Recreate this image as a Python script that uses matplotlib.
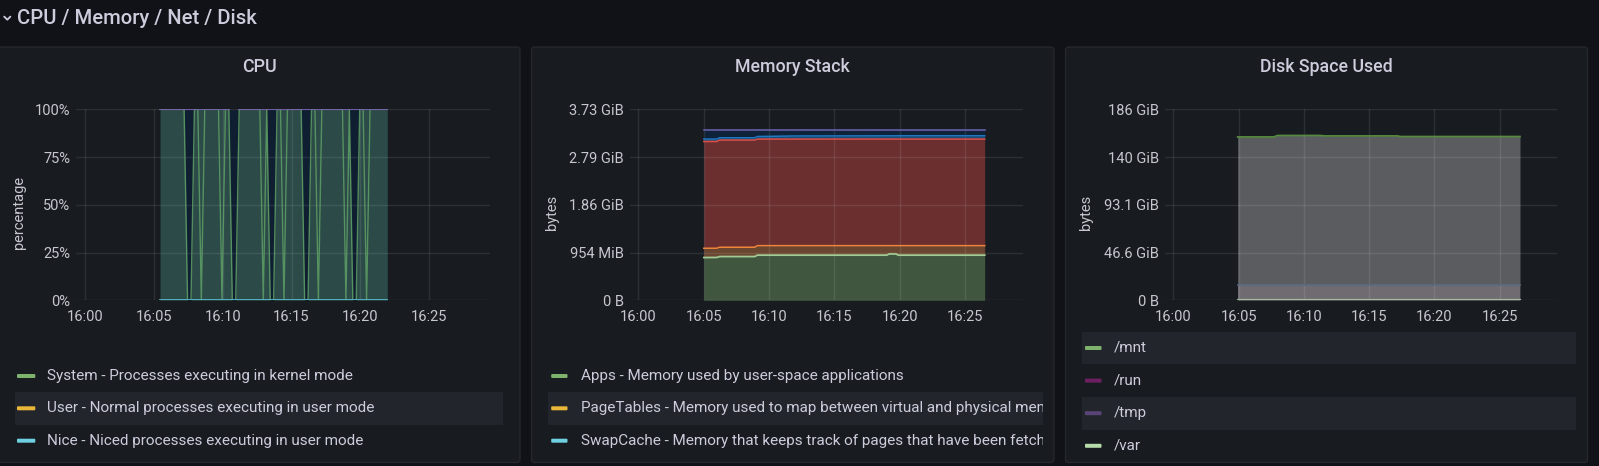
import numpy as np
import matplotlib
matplotlib.use("Agg")
import matplotlib.pyplot as plt
from matplotlib.patches import FancyBboxPatch, Rectangle

W, H = 1599, 466
plt.rcParams['font.family'] = ['Roboto', 'DejaVu Sans']

# ------------------------------------------------------------------ data
row_title = "CPU / Memory / Net / Disk"
panel_titles = ["CPU", "Memory Stack", "Disk Space Used"]

x_tick_minutes = [0, 5, 10, 15, 20, 25]          # minutes after 16:00
x_tick_labels = ["16:00", "16:05", "16:10", "16:15", "16:20", "16:25"]

# CPU (percent), samples every 15 s starting 16:05:27 (None = no data)
cpu_start_min = 5.45
cpu_step_min = 0.25
cpu_system = [100, 100, 100, 100, 100, 100, 100, 100, 0, 0,
              100, 100, 0, 100, 100, 100, 100, 100, 0, 100,
              100, 0, 0, 100, 100, 100, 100, 100, 100, 100,
              0, 100, 0, 0, 100, 100, 0, 100, 100, 100,
              100, 100, 0, 0, 100, 100, 0, 100, 100, 100,
              100, 100, 100, 100, 0, 100, 0, 0, 100, 100,
              0, 100, 100, 100, 100, 100, 100]
cpu_user = [0, 0, 0, 0, 0, 0, 0, 0, 0, 0,
            0, 0, 100, 0, 0, 0, 0, 0, 100, 0,
            0, 0, 0, 0, 0, 0, 0, 0, 0, 0,
            100, 0, 0, 0, 0, 0, 100, 0, 0, 0,
            0, 0, 0, 0, 0, 0, 100, 0, 0, 0,
            0, 0, 0, 0, 100, 0, 0, 0, 0, 0,
            100, 0, 0, 0, 0, 0, 0]
cpu_idle = [0, 0, 0, 0, 0, 0, 0, 0, 100, 100,
            0, 0, 0, 0, 0, 0, 0, 0, 0, 0,
            0, 100, 100, 0, 0, 0, 0, 0, 0, 0,
            0, 0, 100, 100, 0, 0, 0, 0, 0, 0,
            0, 0, 100, 100, 0, 0, 0, 0, 0, 0,
            0, 0, 0, 0, 0, 0, 100, 100, 0, 0,
            0, 0, 0, 0, 0, 0, 0]
cpu_nice = [0] * len(cpu_system)
cpu_steal = [0, 0, 0, 0, 0, 0, 0, 0, 0, 0,
             0, 0, 0, 0, 0, 0, 0, 0, 0, 0,
             0, None, None, 0, 0, 0, 0, 0, 0, 0,
             0, 0, 0, 0, 0, 0, 0, 0, 0, 0,
             0, 0, 0, 0, 0, 0, 0, 0, 0, 0,
             0, 0, 0, 0, 0, 0, 0, 0, 0, 0,
             0, 0, 0, 0, 0, 0, 0]
cpu_tick_values = [0, 25, 50, 75, 100]
cpu_tick_labels = ["0%", "25%", "50%", "75%", "100%"]
cpu_legend = ["System - Processes executing in kernel mode",
              "User - Normal processes executing in user mode",
              "Nice - Niced processes executing in user mode"]

# Memory stack (GiB)
mem_minutes = [5.0, 6.0, 6.2, 8.9, 9.1, 12.0, 19.0, 19.2, 19.7, 19.9, 26.5]
mem_apps = [0.832, 0.833, 0.851, 0.851, 0.878, 0.878, 0.878, 0.903, 0.903, 0.878, 0.878]
mem_pagetables = [0.006, 0.006, 0.006, 0.006, 0.006, 0.006, 0.006, 0.006, 0.006, 0.006, 0.006]
mem_swapcache = [0.0, 0.0, 0.0, 0.0, 0.0, 0.0, 0.0, 0.0, 0.0, 0.0, 0.0]
mem_slab = [0.177, 0.177, 0.178, 0.178, 0.182, 0.182, 0.182, 0.157, 0.157, 0.182, 0.182]
mem_cache = [2.082, 2.082, 2.090, 2.090, 2.078, 2.078, 2.078, 2.078, 2.078, 2.078, 2.078]
mem_buffers = [0.047, 0.047, 0.045, 0.045, 0.051, 0.061, 0.064, 0.064, 0.064, 0.065, 0.065]
mem_unused = [0.168, 0.167, 0.142, 0.142, 0.117, 0.107, 0.104, 0.104, 0.104, 0.103, 0.103]
mem_swap = [0.0, 0.0, 0.0, 0.0, 0.0, 0.0, 0.0, 0.0, 0.0, 0.0, 0.0]
mem_tick_bytes = [0, 1e9, 2e9, 3e9, 4e9]
mem_tick_labels = ["0 B", "954 MiB", "1.86 GiB", "2.79 GiB", "3.73 GiB"]
mem_legend = ["Apps - Memory used by user-space applications",
              "PageTables - Memory used to map between virtual and physical memory addresses",
              "SwapCache - Memory that keeps track of pages that have been fetched from swap but not yet been modified"]

# Disk space used (GiB)
disk_minutes = [4.92, 7.7, 7.95, 11.3, 11.55, 17.15, 17.4, 26.55]
disk_mnt = [159.3, 159.3, 160.7, 160.7, 160.3, 160.3, 159.7, 159.7]
disk_root = [14.9, 14.9, 14.9, 14.9, 14.9, 14.9, 14.9, 14.9]
disk_var = [0.4, 0.4, 0.4, 0.4, 0.4, 0.4, 0.4, 0.4]
disk_run = [0.0, 0.0, 0.0, 0.0, 0.0, 0.0, 0.0, 0.0]
disk_tmp = [0.0, 0.0, 0.0, 0.0, 0.0, 0.0, 0.0, 0.0]
disk_tick_bytes = [0, 5e10, 1e11, 1.5e11, 2e11]
disk_tick_labels = ["0 B", "46.6 GiB", "93.1 GiB", "140 GiB", "186 GiB"]
disk_legend = ["/mnt", "/run", "/tmp", "/var"]

# ------------------------------------------------------------------ style
BG = '#111217'
PANEL = '#181b1f'
PANEL_EDGE = '#25282d'
TXT = '#ccccdc'
TICK = '#c6c7d0'
ROWHL = '#22252b'
GRID = (1, 1, 1, 0.09)
XLIM = (-0.65, 29.41)
TICK_FS = 10.5
LEG_FS = 11.0

fig = plt.figure(figsize=(W / 100, H / 100), dpi=100, facecolor=BG)
bg = fig.add_axes([0, 0, 1, 1])
bg.set_xlim(0, W)
bg.set_ylim(H, 0)
bg.axis('off')


def px_axes(l, t, r, b):
    return fig.add_axes([l / W, 1 - b / H, (r - l) / W, (b - t) / H])


panels = [(-3, 47, 520, 462.5), (531.5, 47, 1054, 462.5), (1065.5, 47, 1587.5, 462.5)]
for (x0, y0, x1, y1) in panels:
    bg.add_patch(FancyBboxPatch((x0, y0), x1 - x0, y1 - y0,
                                boxstyle="round,pad=0,rounding_size=3",
                                fc=PANEL, ec=PANEL_EDGE, lw=0.9))

# row header
bg.plot([4.2, 7.3, 10.4], [16.6, 19.7, 16.6], color=TXT, lw=1.3, solid_capstyle='round')
bg.text(17, 18.8, row_title, fontsize=14.6, fontweight='medium', color=TXT, ha='left', va='center')

title_cx = [259, 792.7, 1326.6]
for cx, t in zip(title_cx, panel_titles):
    bg.text(cx, 67.5, t, fontsize=12.8, fontweight='medium', color=TXT, ha='center', va='center')

ylabel_x = [19, 551.7, 1085.7]
for x, t in zip(ylabel_x, ["percentage", "bytes", "bytes"]):
    bg.text(x, 212.5, t, fontsize=TICK_FS, color=TICK, rotation=90, ha='center', va='center')


def style_axes(ax, ylim, yticks, ylabels):
    ax.set_facecolor('none')
    for s in ax.spines.values():
        s.set_visible(False)
    ax.set_xlim(*XLIM)
    ax.set_ylim(*ylim)
    ax.set_xticks(x_tick_minutes)
    ax.set_xticklabels(x_tick_labels)
    ax.set_yticks(yticks)
    ax.set_yticklabels(ylabels)
    ax.tick_params(axis='both', length=0, labelsize=TICK_FS, labelcolor=TICK)
    ax.tick_params(axis='x', pad=6.8)
    ax.tick_params(axis='y', pad=4.3)
    for v in yticks:
        ax.axhline(v, color=GRID, lw=1.0, zorder=2)
    for v in x_tick_minutes:
        ax.axvline(v, color=GRID, lw=1.0, zorder=2)


def arr(v):
    return np.array([np.nan if x is None else x for x in v], float)


# ---------------- CPU (stacked: System, User, Nice, Idle, Steal)
cpu_ax = px_axes(76, 109.3, 490, 300.3)
cpu_t = [cpu_start_min + cpu_step_min * i for i in range(len(cpu_system))]
sys_top = arr(cpu_system)
user_top = sys_top + arr(cpu_user)
nice_top = user_top + arr(cpu_nice)
idle_top = nice_top + arr(cpu_idle)
steal_top = idle_top + arr(cpu_steal)
cpu_ax.fill_between(cpu_t, 0, sys_top, color='#2b4a48', lw=0, zorder=1)
cpu_ax.fill_between(cpu_t, sys_top, user_top, color='#2b4a48', lw=0, zorder=1)
cpu_ax.fill_between(cpu_t, nice_top, idle_top, color='#0f1f31', lw=0, zorder=1)
cpu_ax.plot(cpu_t, sys_top, color='#5fa067', lw=1.0, alpha=0.85, zorder=3)
cpu_ax.plot(cpu_t, steal_top, color='#7a62b0', lw=1.3, zorder=3)
cpu_ax.plot(cpu_t, arr(cpu_nice), color='#57b6c8', lw=1.3, zorder=3)
style_axes(cpu_ax, (0, 100), cpu_tick_values, cpu_tick_labels)

# ---------------- Memory
GIB = 2 ** 30
mem_ax = px_axes(630, 109.3, 1022.7, 300.3)
mem_series = [mem_apps, mem_pagetables, mem_swapcache, mem_slab, mem_cache,
              mem_buffers, mem_unused, mem_swap]
mem_line = ['#9fd39a', '#EAB839', '#6ED0E0', '#EF843C', '#E24D42', '#1F78C1', '#0A437C', '#705DA0']
mem_line_alpha = [1.0, 0.4, 0.35, 1.0, 1.0, 1.0, 1.0, 1.0]
mem_fill = ['#40563f', '#5a5030', '#2c4f55', '#6a4630', '#6b2f30', '#1b4a75', '#0e2339', '#2a2540']
bottom = np.zeros(len(mem_minutes))
tops = []
for vals, fc in zip(mem_series, mem_fill):
    top = bottom + np.array(vals)
    mem_ax.fill_between(mem_minutes, bottom, top, color=fc, lw=0, zorder=1)
    tops.append(top)
    bottom = top
for top, lc, la in zip(tops, mem_line, mem_line_alpha):
    mem_ax.plot(mem_minutes, top, color=lc, lw=1.1, alpha=la, zorder=3)
style_axes(mem_ax, (0, 4e9 / GIB), [b / GIB for b in mem_tick_bytes], mem_tick_labels)

# ---------------- Disk
disk_ax = px_axes(1165, 109.3, 1557.3, 300.3)
disk_ax.fill_between(disk_minutes, 0, disk_mnt, color='#5b5c60', lw=0, zorder=1)
disk_ax.fill_between(disk_minutes, 0, disk_root, color='#706b71', lw=0, zorder=1)
disk_ax.plot(disk_minutes, disk_root, color='#5b6b82', lw=1.2, zorder=3)
disk_ax.plot(disk_minutes, disk_mnt, color='#56893f', lw=1.3, zorder=3)
disk_ax.plot(disk_minutes, disk_run, color='#6D1F62', lw=1.0, zorder=3)
disk_ax.plot(disk_minutes, disk_tmp, color='#584477', lw=1.0, zorder=3)
disk_ax.plot(disk_minutes, disk_var, color='#B7DBAB', lw=1.6, alpha=0.75, zorder=3)
style_axes(disk_ax, (0, 2e11 / GIB), [b / GIB for b in disk_tick_bytes], disk_tick_labels)

# ---------------- Legends
renderer = fig.canvas.get_renderer()


def legend_block(x_clip_l, x_clip_r, row_ys, hl_rows, sw_x0, sw_x1, text_x, labels, colors):
    lax = px_axes(x_clip_l, 320, x_clip_r, 466)
    lax.set_xlim(x_clip_l, x_clip_r)
    lax.set_ylim(466, 320)
    lax.axis('off')
    for i, (y, lab, c) in enumerate(zip(row_ys, labels, colors)):
        if i in hl_rows:
            lax.add_patch(Rectangle((x_clip_l, y - 16.3), x_clip_r - x_clip_l, 32.6,
                                    fc=ROWHL, ec='none', zorder=0))
        lax.add_patch(FancyBboxPatch((sw_x0, y - 2), sw_x1 - sw_x0, 4,
                                     boxstyle="round,pad=0,rounding_size=1",
                                     fc=c, ec='none', zorder=1))
        txt = lax.text(text_x, y, lab, fontsize=LEG_FS, color=TXT, ha='left', va='center',
                       clip_on=True, zorder=2)
        # the legend list is cut at the panel's edge: keep only what reaches it
        shown = lab
        while txt.get_window_extent(renderer).x1 > x_clip_r + 8 and len(shown) > 1:
            shown = shown[:-1]
            txt.set_text(shown)


legend_block(14.7, 502.7, [376, 408.3, 440.7], [1], 17, 35.3, 47,
             cpu_legend, ['#7EB26D', '#EAB839', '#6ED0E0'])
legend_block(547.5, 1042.5, [376, 408.3, 440.7], [1], 551.2, 567.5, 581,
             mem_legend, ['#7EB26D', '#EAB839', '#6ED0E0'])
legend_block(1082, 1576.5, [348, 380.6, 413.2, 445.8], [0, 2], 1085, 1101.5, 1114,
             disk_legend, ['#7EB26D', '#6D1F62', '#584477', '#B7DBAB'])

fig.savefig('out.png', dpi=100, facecolor=BG)
